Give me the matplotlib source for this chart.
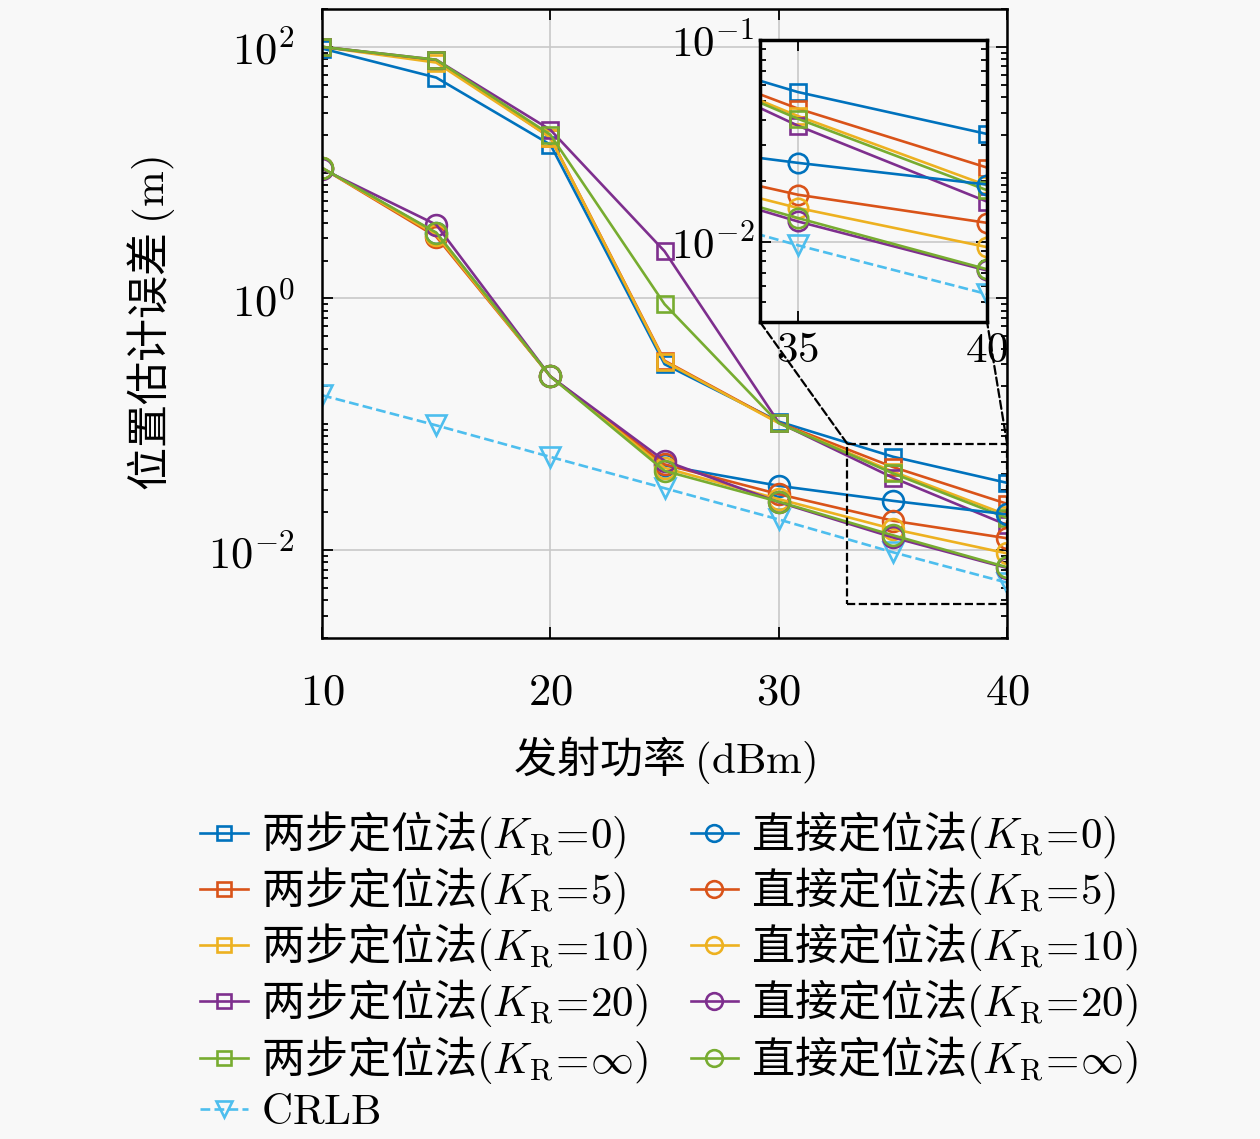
import numpy as np
import matplotlib
matplotlib.use('Agg')
import matplotlib.pyplot as plt
from matplotlib.ticker import LogLocator, NullFormatter
from matplotlib.patches import Rectangle, ConnectionPatch

plt.rcParams['font.family'] = ['Noto Sans CJK SC', 'DejaVu Sans']
plt.rcParams['mathtext.fontset'] = 'cm'

# 数据
p_dbm = [10, 15, 20, 25, 30, 35, 40]

two_k0 = [97, 57, 16.7, 0.30, 0.105, 0.0552, 0.0342]
two_k5 = [100, 78, 19, 0.32, 0.103, 0.0457, 0.0233]
two_k10 = [100, 75, 19, 0.315, 0.102, 0.042, 0.0190]
two_k20 = [100, 79, 21.9, 2.37, 0.103, 0.0376, 0.0158]
two_kinf = [100, 79, 20, 0.90, 0.102, 0.0407, 0.0180]

dir_k0 = [10.9, 3.3, 0.24, 0.047, 0.0324, 0.0246, 0.0192]
dir_k5 = [10.9, 3.1, 0.24, 0.048, 0.0278, 0.0171, 0.0124]
dir_k10 = [10.9, 3.2, 0.24, 0.045, 0.0254, 0.0147, 0.0094]
dir_k20 = [10.7, 3.86, 0.24, 0.0512, 0.0240, 0.0126, 0.0072]
dir_kinf = [10.9, 3.34, 0.24, 0.0426, 0.0242, 0.0131, 0.0073]

crlb = [0.17, 0.098, 0.055, 0.031, 0.0175, 0.0096, 0.0055]

k_labels = ['0', '5', '10', '20', r'\infty']
colors = ['#0072BD', '#D95319', '#EDB120', '#7E2F8E', '#77AC30']
crlb_color = '#4DBEEE'
bg = '#f8f8f8'

two_step = [two_k0, two_k5, two_k10, two_k20, two_kinf]
direct = [dir_k0, dir_k5, dir_k10, dir_k20, dir_kinf]

fig = plt.figure(figsize=(12.6, 11.39), dpi=100, facecolor=bg)
ax = fig.add_axes([0.2556, 0.4399, 0.5437, 0.5522], facecolor=bg)
axins = fig.add_axes([0.6032, 0.7173, 0.1802, 0.2476], facecolor=bg)


def draw(a, ms_sq=12, ms_ci=15):
    hs = []
    for i in range(5):
        h, = a.plot(p_dbm, two_step[i], '-s', color=colors[i], lw=1.9, ms=ms_sq,
                    mfc='none', mew=1.9,
                    label=r'两步定位法$(K_{\mathrm{R}}\!=\!%s)$' % k_labels[i])
        hs.append(h)
    h, = a.plot(p_dbm, crlb, '--v', color=crlb_color, lw=1.9, ms=ms_ci, mfc='none',
                mew=1.9, label=r'$\mathrm{CRLB}$')
    hs.append(h)
    for i in range(5):
        h, = a.plot(p_dbm, direct[i], '-o', color=colors[i], lw=1.9, ms=ms_ci,
                    mfc='none', mew=1.9,
                    label=r'直接定位法$(K_{\mathrm{R}}\!=\!%s)$' % k_labels[i])
        hs.append(h)
    return hs


handles = draw(ax)
ax.set_yscale('log')
ax.set_xlim(10, 40)
ax.set_ylim(2e-3, 2e2)
ax.set_xticks([10, 20, 30, 40])
ax.set_xticklabels(['$10$', '$20$', '$30$', '$40$'])
ax.set_yticks([1e-2, 1e0, 1e2])
ax.set_yticklabels(['$10^{-2}$', '$10^{0}$', '$10^{2}$'])
ax.yaxis.set_minor_locator(LogLocator(base=10, subs=np.arange(1, 10), numticks=50))
ax.yaxis.set_minor_formatter(NullFormatter())
ax.grid(True, which='major', color='#c8c8c8', lw=1.2)
ax.tick_params(which='both', direction='in', top=True, right=True, labelsize=32, width=1.3)
ax.tick_params(which='major', length=8)
ax.tick_params(axis='x', which='major', pad=22)
ax.tick_params(axis='y', which='major', pad=20)
ax.tick_params(which='minor', length=4)
for s in ax.spines.values():
    s.set_linewidth(1.8)
ax.set_xlabel(r'发射功率 $(\mathrm{dBm})$', fontsize=31, labelpad=14)
ax.set_ylabel(r'位置估计误差 $(\mathrm{m})$', fontsize=31, labelpad=22)

# 放大区域
draw(axins, ms_sq=11, ms_ci=14)
axins.set_yscale('log')
axins.set_xlim(34, 40)
axins.set_ylim(4e-3, 1e-1)
axins.set_xticks([35, 40])
axins.set_xticklabels(['$35$', '$40$'])
axins.set_yticks([1e-2, 1e-1])
axins.set_yticklabels(['$10^{-2}$', '$10^{-1}$'])
axins.yaxis.set_minor_locator(LogLocator(base=10, subs=np.arange(1, 10), numticks=50))
axins.yaxis.set_minor_formatter(NullFormatter())
axins.grid(True, which='major', color='#c8c8c8', lw=1.2)
axins.tick_params(which='both', direction='in', top=True, right=True, labelsize=31, width=1.3)
axins.tick_params(which='major', length=8, pad=4)
axins.tick_params(which='minor', length=4)
for s in axins.spines.values():
    s.set_linewidth(2.5)

rect = Rectangle((33, 0.0037), 7, 0.07 - 0.0037, fill=False, ls='--', lw=1.6,
                 ec='black', zorder=5)
ax.add_patch(rect)
for (xa, ya), (xb, yb) in [((33, 0.07), (0, 0)), ((40, 0.07), (1, 0))]:
    con = ConnectionPatch(xyA=(xa, ya), coordsA=ax.transData,
                          xyB=(xb, yb), coordsB=axins.transAxes,
                          ls='--', lw=1.6, color='black')
    fig.add_artist(con)

leg = fig.legend(handles=handles, ncol=2, loc='upper left',
                 bbox_to_anchor=(0.142, 0.309), frameon=False, fontsize=31,
                 handlelength=1.1, handletextpad=0.3, labelspacing=0.1,
                 columnspacing=1.0, borderpad=0, markerscale=0.8)

fig.savefig('out.png', dpi=100, facecolor=bg)
